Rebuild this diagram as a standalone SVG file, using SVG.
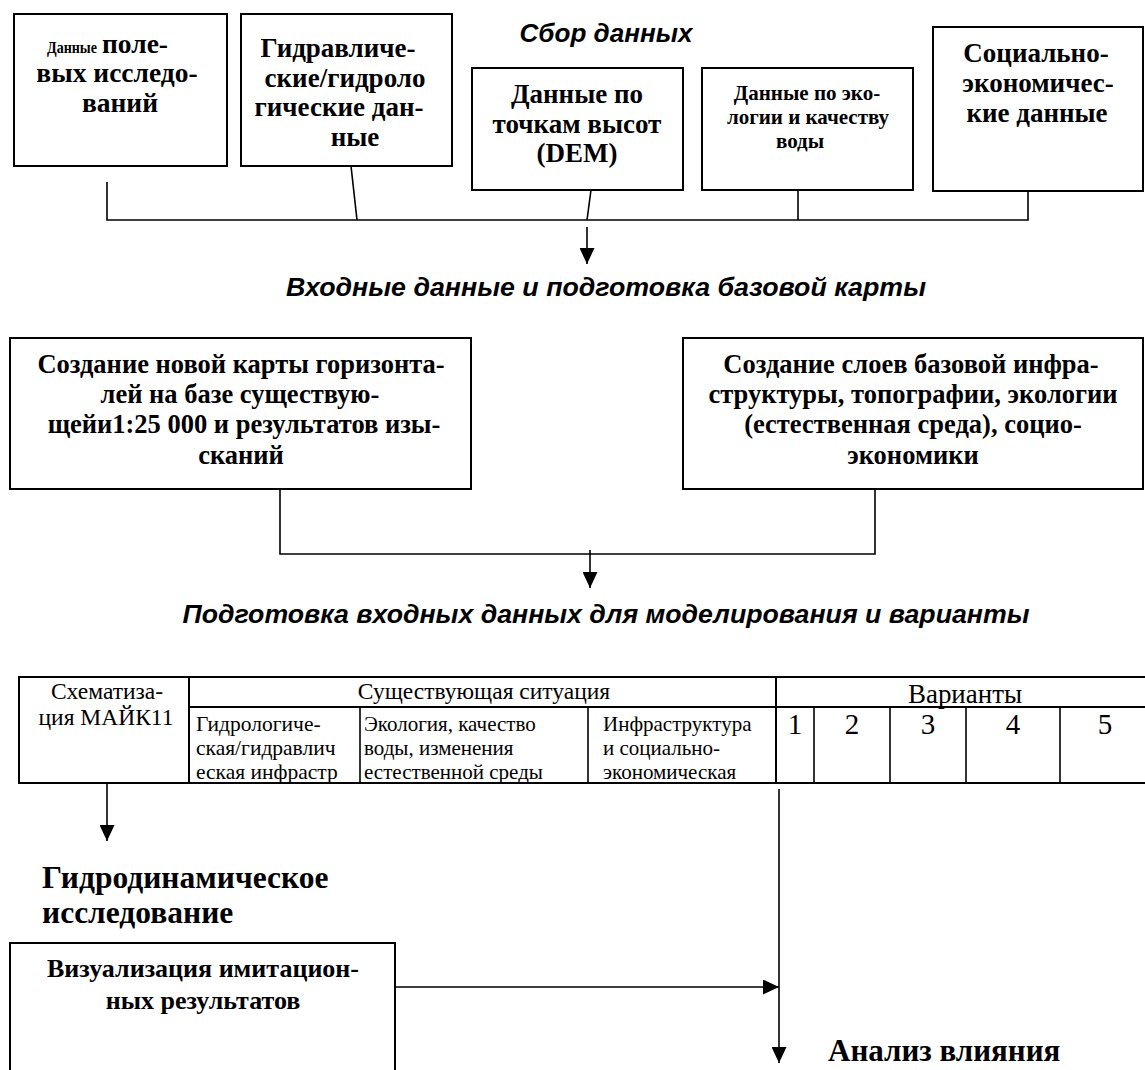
<svg xmlns="http://www.w3.org/2000/svg" width="1145" height="1070" viewBox="0 0 1145 1070">
<style>
.box{fill:#fff;stroke:#000;stroke-width:2}
.ln{fill:none;stroke:#000;stroke-width:1.6}
.tl{fill:none;stroke:#000;stroke-width:2}
.tli{fill:none;stroke:#000;stroke-width:1.6}
.b{font-family:"Liberation Serif","Times New Roman",serif;font-weight:bold;fill:#000}
.t{font-family:"Liberation Serif","Times New Roman",serif;fill:#000}
.h{font-family:"Liberation Sans",Arial,sans-serif;font-weight:bold;font-style:italic;fill:#000}
.m{text-anchor:middle}
</style>
<defs>
<marker id="arr" markerUnits="userSpaceOnUse" markerWidth="16" markerHeight="15" refX="16" refY="7.5" orient="auto">
<path d="M0,0 L16,7.5 L0,15 z" fill="#000"/>
</marker>
</defs>
<rect width="1145" height="1070" fill="#fff"/>

<text class="h m" x="606" y="42" font-size="26" textLength="173" lengthAdjust="spacingAndGlyphs">Сбор данных</text>
<text class="h m" x="606" y="296" font-size="26" textLength="640" lengthAdjust="spacingAndGlyphs">Входные данные и подготовка базовой карты</text>
<text class="h m" x="606" y="623" font-size="26" textLength="847" lengthAdjust="spacingAndGlyphs">Подготовка входных данных для моделирования и варианты</text>

<g id="connectors">
<polyline class="ln" points="107,182 107,220 1028,220 1028,182"/>
<line class="ln" x1="351" y1="166" x2="357" y2="220"/>
<line class="ln" x1="591" y1="190" x2="587" y2="220"/>
<line class="ln" x1="798" y1="182" x2="798" y2="220"/>
<line class="ln" x1="587" y1="227" x2="587" y2="264" marker-end="url(#arr)"/>
<polyline class="ln" points="280,477 280,554 875,554 875,477"/>
<line class="ln" x1="590" y1="550" x2="590" y2="588" marker-end="url(#arr)"/>
<line class="ln" x1="107" y1="784" x2="107" y2="841" marker-end="url(#arr)"/>
<line class="ln" x1="779" y1="789" x2="779" y2="1063" marker-end="url(#arr)"/>
<line class="ln" x1="395" y1="987" x2="779" y2="987" marker-end="url(#arr)"/>
</g>

<g id="n1">
<rect class="box" x="14" y="14" width="213" height="152"/>
<text class="b" x="47" y="53" font-size="17" textLength="50" lengthAdjust="spacingAndGlyphs">Данные</text>
<text class="b" x="102" y="53" font-size="27.5">поле-</text>
<text class="b m" x="117" y="82" font-size="27.5">вых исследо-</text>
<text class="b m" x="120" y="112" font-size="27.5">ваний</text>
</g>

<g id="n2">
<rect class="box" x="241" y="14" width="211" height="152"/>
<text class="b m" x="338" y="57" font-size="27">Гидравличе-</text>
<text class="b m" x="345" y="87" font-size="27">ские/гидроло</text>
<text class="b m" x="339" y="116" font-size="27">гические дан-</text>
<text class="b m" x="355" y="146" font-size="27">ные</text>
</g>

<g id="n3">
<rect class="box" x="472" y="68" width="211" height="122"/>
<text class="b m" x="577" y="103" font-size="27">Данные по</text>
<text class="b m" x="577" y="133" font-size="27">точкам высот</text>
<text class="b m" x="577" y="162" font-size="27">(DEM)</text>
</g>

<g id="n4">
<rect class="box" x="702" y="68" width="211" height="122"/>
<text class="b m" x="807" y="100" font-size="21">Данные по эко-</text>
<text class="b m" x="808" y="124" font-size="21">логии и качеству</text>
<text class="b m" x="800" y="148" font-size="21">воды</text>
</g>

<g id="n5">
<rect class="box" x="933" y="27" width="210" height="164"/>
<text class="b m" x="1036" y="62" font-size="27">Социально-</text>
<text class="b m" x="1038" y="92" font-size="27">экономичес-</text>
<text class="b m" x="1037" y="122" font-size="27">кие данные</text>
</g>

<g id="n6">
<rect class="box" x="10" y="338" width="461" height="151"/>
<text class="b m" x="241" y="373" font-size="26.5">Создание новой карты горизонта-</text>
<text class="b m" x="240" y="403" font-size="26.5">лей на базе существую-</text>
<text class="b m" x="244" y="433" font-size="26.5">щейи1:25 000 и результатов изы-</text>
<text class="b m" x="241" y="464" font-size="26.5">сканий</text>
</g>

<g id="n7">
<rect class="box" x="683" y="338" width="460" height="151"/>
<text class="b m" x="911" y="373" font-size="26.5">Создание слоев базовой инфра-</text>
<text class="b m" x="913" y="403" font-size="26.5">структуры, топографии, экологии</text>
<text class="b m" x="913" y="433" font-size="26.5">(естественная среда), социо-</text>
<text class="b m" x="913" y="464" font-size="26.5">экономики</text>
</g>

<g id="table">
<rect class="tl" x="19" y="677" width="1145" height="106"/>
<line class="tl" x1="189" y1="707" x2="1164" y2="707"/>
<line class="tl" x1="189" y1="677" x2="189" y2="783"/>
<line class="tl" x1="776" y1="677" x2="776" y2="783"/>
<line class="tli" x1="360" y1="707" x2="360" y2="783"/>
<line class="tli" x1="588" y1="707" x2="588" y2="783"/>
<line class="tli" x1="814" y1="707" x2="814" y2="783"/>
<line class="tli" x1="890" y1="707" x2="890" y2="783"/>
<line class="tli" x1="966" y1="707" x2="966" y2="783"/>
<line class="tli" x1="1060" y1="707" x2="1060" y2="783"/>
<text class="t m" x="107" y="699" font-size="23.5">Схематиза-</text>
<text class="t m" x="106" y="725" font-size="23.5">ция МАЙК11</text>
<text class="t m" x="484" y="699" font-size="23.5">Существующая ситуация</text>
<text class="t m" x="965" y="703" font-size="28" textLength="114" lengthAdjust="spacingAndGlyphs">Варианты</text>
<text class="t" x="196" y="731" font-size="21.5">Гидрологиче-</text>
<text class="t" x="196" y="755" font-size="21.5">ская/гидравлич</text>
<text class="t" x="196" y="779" font-size="21.5">еская инфрастр</text>
<text class="t" x="364" y="731" font-size="21">Экология, качество</text>
<text class="t" x="364" y="755" font-size="21">воды, изменения</text>
<text class="t" x="364" y="779" font-size="21">естественной среды</text>
<text class="t" x="603" y="731" font-size="21">Инфраструктура</text>
<text class="t" x="603" y="755" font-size="21">и социально-</text>
<text class="t" x="603" y="779" font-size="21">экономическая</text>
<text class="t m" x="795" y="734" font-size="29">1</text>
<text class="t m" x="852" y="734" font-size="29">2</text>
<text class="t m" x="928" y="734" font-size="29">3</text>
<text class="t m" x="1013" y="734" font-size="29">4</text>
<text class="t m" x="1105" y="734" font-size="29">5</text>
</g>

<g id="n8">
<text class="b" x="42" y="888" font-size="31.5">Гидродинамическое</text>
<text class="b" x="42" y="923" font-size="31.5">исследование</text>
</g>

<g id="n9">
<rect class="box" x="10" y="943" width="385" height="140"/>
<text class="b m" x="203" y="977" font-size="26">Визуализация имитацион-</text>
<text class="b m" x="203" y="1009" font-size="26">ных результатов</text>
</g>

<g id="n10">
<text class="b" x="828" y="1061" font-size="31">Анализ влияния</text>
</g>
</svg>
